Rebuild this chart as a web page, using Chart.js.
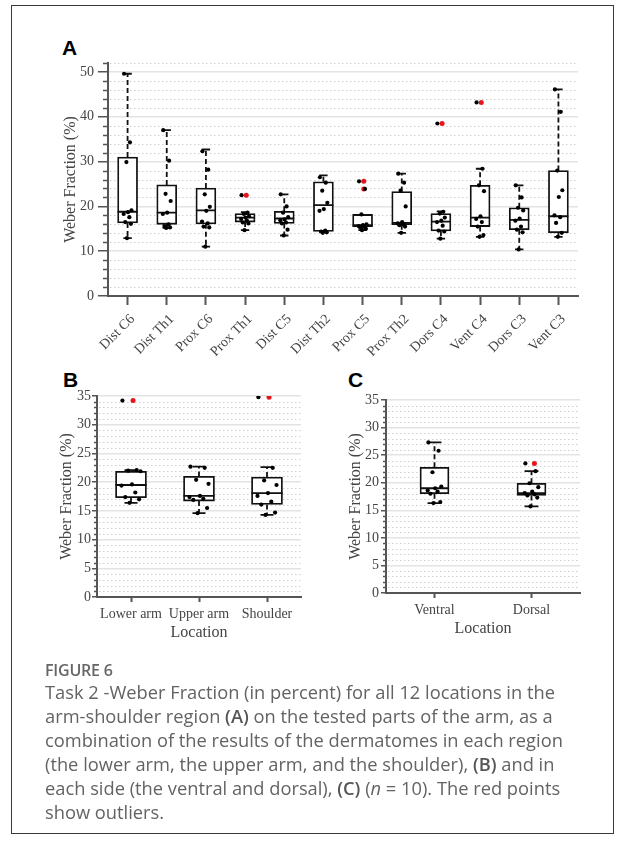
<!DOCTYPE html>
<html>
<head>
<meta charset="utf-8">
<script src="https://cdn.jsdelivr.net/npm/chart.js@4.4.0/dist/chart.umd.min.js"></script>
<style>
html, body { margin: 0; padding: 0; background: #fff; }
body { width: 625px; height: 845px; position: relative; overflow: hidden; }
.frame { position: absolute; left: 11px; top: 5px; width: 601px; height: 827px; border: 1px solid #3a3a3a; }
.panel { position: absolute; font-family: "Liberation Sans", Arial, sans-serif; font-weight: bold; font-size: 21px; line-height: 21px; color: #000; }
canvas { position: absolute; }
.fig { position: absolute; left: 45px; top: 659px; font-family: "Open Sans", sans-serif; font-weight: 600; font-size: 16px; color: #666; letter-spacing: -0.2px; }
.txt { position: absolute; left: 45px; top: 680px; font-family: "Open Sans", sans-serif; font-size: 18.3px; line-height: 23.9px; color: #636363; white-space: nowrap; }
.txt b { color: #555; font-weight: 600; }
</style>
</head>
<body>
<div class="frame"></div>
<div class="panel" style="left:62px;top:37px">A</div>
<div class="panel" style="left:63px;top:369px">B</div>
<div class="panel" style="left:348px;top:369px">C</div>
<canvas id="chartA" width="625" height="372" style="left:0;top:0"></canvas>
<canvas id="chartB" width="320" height="290" style="left:0;top:360px"></canvas>
<canvas id="chartC" width="325" height="290" style="left:300px;top:360px"></canvas>
<div class="fig">FIGURE 6</div>
<div class="txt">Task 2 -Weber Fraction (in percent) for all 12 locations in the<br>arm-shoulder region <b>(A)</b> on the tested parts of the arm, as a<br>combination of the results of the dermatomes in each region<br>(the lower arm, the upper arm, and the shoulder), <b>(B)</b> and in<br>each side (the ventral and dorsal), <b>(C)</b> (<i>n</i> = 10). The red points<br>show outliers.</div>
<script>
// panel A - 12 locations
var labelsA = ["Dist C6", "Dist Th1", "Prox C6", "Prox Th1", "Dist C5", "Dist Th2",
               "Prox C5", "Prox Th2", "Dors C4", "Vent C4", "Dors C3", "Vent C3"];
var lowA  = [12.9, 15.2, 11.0, 14.7, 13.5, 14.3, 14.7, 14.1, 12.8, 13.2, 10.4, 13.2];
var q1A   = [16.3, 16.0, 16.1, 16.5, 16.2, 14.4, 15.5, 15.9, 14.5, 15.5, 14.8, 14.1];
var medA  = [18.8, 18.6, 19.1, 17.5, 17.3, 20.3, 15.8, 16.3, 16.6, 17.5, 17.0, 17.8];
var q3A   = [31.0, 24.8, 24.1, 18.4, 18.9, 25.5, 18.2, 23.3, 18.4, 24.7, 19.7, 28.0];
var highA = [49.6, 37.0, 32.7, 18.7, 22.7, 26.9, 18.2, 27.3, 18.9, 28.4, 24.7, 46.1];
var pointsA = [
  [49.6, 34.3, 29.9, 19.1, 18.7, 18.3, 17.6, 16.5, 16.1, 12.9],
  [37.0, 30.2, 22.8, 21.2, 18.6, 18.3, 16.0, 15.6, 15.3, 15.2],
  [32.3, 28.2, 22.7, 19.9, 19.0, 16.6, 16.2, 15.5, 15.3, 11.0],
  [22.5, 18.6, 18.3, 17.8, 17.5, 17.2, 16.8, 16.4, 16.2, 14.7],
  [22.7, 20.0, 18.6, 17.6, 17.1, 16.9, 16.4, 16.2, 14.8, 13.5],
  [26.5, 25.3, 23.5, 20.8, 19.4, 19.0, 14.6, 14.4, 14.2, 14.1],
  [25.6, 23.9, 18.2, 16.0, 15.8, 15.6, 15.5, 15.3, 15.0, 14.7],
  [27.3, 25.3, 23.5, 20.0, 16.5, 16.2, 16.0, 15.8, 15.5, 14.1],
  [38.5, 18.8, 18.4, 17.5, 16.8, 16.5, 15.7, 14.6, 14.4, 12.8],
  [43.2, 28.4, 24.7, 23.4, 17.8, 17.2, 16.5, 15.5, 13.6, 13.2],
  [24.7, 22.0, 19.7, 19.1, 17.3, 16.8, 15.5, 14.8, 14.2, 10.4],
  [46.1, 41.1, 28.0, 23.6, 22.1, 18.0, 17.6, 16.3, 14.1, 13.2]
];
var outliersA = [[], [], [], [22.5], [], [], [25.6, 23.9], [], [38.5], [43.2], [], []];

// panel B - regions
var labelsB = ["Lower arm", "Upper arm", "Shoulder"];
var lowB  = [16.4, 14.6, 14.3];
var q1B   = [17.3, 16.7, 16.1];
var medB  = [19.5, 17.6, 18.1];
var q3B   = [21.9, 21.0, 20.9];
var highB = [22.1, 22.7, 22.6];
var pointsB = [
  [34.2, 22.1, 22.0, 21.9, 19.6, 19.4, 18.2, 17.4, 17.0, 16.4],
  [22.7, 22.5, 20.4, 19.7, 17.6, 17.4, 17.1, 16.9, 15.5, 14.6],
  [34.8, 22.5, 20.3, 19.5, 18.1, 17.6, 16.6, 16.1, 14.7, 14.3]
];
var outliersB = [[34.2], [], [34.8]];

// panel C - sides
var labelsC = ["Ventral", "Dorsal"];
var lowC  = [16.3, 15.7];
var q1C   = [18.0, 17.7];
var medC  = [19.0, 18.1];
var q3C   = [22.8, 19.9];
var highC = [27.3, 22.1];
var pointsC = [
  [27.3, 25.8, 21.9, 19.3, 19.0, 18.6, 18.4, 18.0, 16.5, 16.3],
  [23.5, 22.1, 19.9, 19.2, 18.4, 18.1, 17.9, 17.7, 17.3, 15.7]
];
var outliersC = [[], [23.5]];

var serif = '"Liberation Serif", "Times New Roman", serif';
var jitterPattern = [-0.9, 0.6, -0.3, 1.0, 0.1, -1.0, 0.45, -0.6, 0.85, -0.15];

function boxChart(id, labels, lo, q1, med, q3, hi, pts, outl, st) {
  var n = labels.length;
  var black = [], red = [];
  pts.forEach(function (arr, i) {
    arr.forEach(function (v, j) { black.push({ x: i + jitterPattern[j % 10] * st.jitter, y: v }); });
  });
  outl.forEach(function (arr, i) {
    arr.forEach(function (v) { red.push({ x: i + 0.03, y: v }); });
  });

  var boxPlugin = {
    id: 'boxes_' + id,
    beforeDatasetsDraw: function (chart) {
      // dotted minor grid + minor ticks
      var ctx = chart.ctx, y = chart.scales.y, a = chart.chartArea;
      ctx.save();
      for (var k = 1; k * st.minor <= st.yMax + 1e-9; k++) {
        var v = k * st.minor;
        if (Math.abs(v / st.major - Math.round(v / st.major)) < 1e-6) continue;
        var py = Math.round(y.getPixelForValue(v)) + 0.5;
        ctx.setLineDash([1.5, 2.5]);
        ctx.strokeStyle = '#cfcfcf';
        ctx.lineWidth = 1;
        ctx.beginPath(); ctx.moveTo(a.left + 2, py); ctx.lineTo(a.right, py); ctx.stroke();
        ctx.setLineDash([]);
        ctx.strokeStyle = '#555';
        ctx.lineWidth = 1.5;
        ctx.beginPath(); ctx.moveTo(a.left - st.minorLen, py); ctx.lineTo(a.left, py); ctx.stroke();
      }
      ctx.restore();
    },
    afterDatasetDraw: function (chart, args) {
      if (args.index !== 0) return;
      var ctx = chart.ctx, y = chart.scales.y;
      ctx.save();
      ctx.strokeStyle = '#111';
      ctx.lineWidth = 1.8;
      args.meta.data.forEach(function (bar, i) {
        var x = bar.x, w = bar.width, c = w * st.cap / 2;
        var pHi = y.getPixelForValue(hi[i]), pLo = y.getPixelForValue(lo[i]);
        var pQ1 = y.getPixelForValue(q1[i]), pQ3 = y.getPixelForValue(q3[i]);
        var pMed = y.getPixelForValue(med[i]);
        ctx.setLineDash([5, 3]);
        ctx.beginPath();
        ctx.moveTo(x, pQ3); ctx.lineTo(x, pHi);
        ctx.moveTo(x, pQ1); ctx.lineTo(x, pLo);
        ctx.stroke();
        ctx.setLineDash([]);
        ctx.beginPath();
        if (hi[i] > q3[i]) { ctx.moveTo(x - c, pHi); ctx.lineTo(x + c, pHi); }
        if (lo[i] < q1[i]) { ctx.moveTo(x - c, pLo); ctx.lineTo(x + c, pLo); }
        ctx.moveTo(x - w / 2, pMed); ctx.lineTo(x + w / 2, pMed);
        ctx.stroke();
      });
      ctx.restore();
    }
  };

  return new Chart(document.getElementById(id), {
    type: 'bar',
    data: {
      labels: labels,
      datasets: [
        {
          type: 'bar',
          data: q1.map(function (v, i) { return [v, q3[i]]; }),
          backgroundColor: '#fff',
          borderColor: '#111',
          borderWidth: 1.8,
          borderSkipped: false,
          grouped: false,
          barThickness: st.boxW,
          maxBarThickness: st.boxW,
          order: 3
        },
        {
          type: 'scatter', xAxisID: 'xp', data: red,
          pointRadius: 2.5, pointBackgroundColor: '#e8141c', pointBorderWidth: 0, order: 2
        },
        {
          type: 'scatter', xAxisID: 'xp', data: black,
          pointRadius: 2.1, pointBackgroundColor: '#000', pointBorderWidth: 0, order: 1
        }
      ]
    },
    options: {
      responsive: false,
      animation: false,
      events: [],
      layout: { padding: { left: st.padL, top: st.padT, right: st.padR, bottom: 0 } },
      plugins: { legend: { display: false }, tooltip: { enabled: false } },
      scales: {
        x: {
          type: 'category',
          offset: true,
          grid: { display: true, drawOnChartArea: false, offset: false, tickLength: st.xTickLen, tickColor: '#555', tickWidth: 2 },
          border: { color: '#555', width: 2 },
          ticks: {
            color: '#444', font: { family: serif, size: 14 }, autoSkip: false,
            maxRotation: st.rot, minRotation: st.rot, padding: st.xPad, labelOffset: st.labelOffset
          },
          title: {
            display: st.xTitle, text: 'Location', color: '#444',
            font: { family: serif, size: 16 }, padding: { top: 0, bottom: st.xTitlePad }
          },
          afterFit: function (s) { s.height = st.xAxisH; }
        },
        xp: { type: 'linear', display: false, offset: false, grid: { offset: false }, min: -0.5, max: n - 0.5 },
        y: {
          min: 0, max: st.yMax,
          ticks: { stepSize: st.major, includeBounds: false, color: '#444', font: { family: serif, size: 14 }, padding: st.yPad },
          grid: { color: '#e3e3e3', lineWidth: 1.5, tickColor: '#555', tickLength: st.majorLen, tickWidth: 1.5 },
          border: { color: '#555', width: 2 },
          title: {
            display: true, text: 'Weber Fraction (%)', color: '#444',
            font: { family: serif, size: st.yTitleSize }, padding: { top: st.yTitlePad, bottom: 0 }
          },
          afterFit: function (s) { s.width = st.yAxisW; }
        }
      }
    },
    plugins: [boxPlugin]
  });
}

boxChart('chartA', labelsA, lowA, q1A, medA, q3A, highA, pointsA, outliersA, {
  padL: 57, padT: 63, padR: 47, yAxisW: 51, xAxisH: 76,
  yMax: 52, major: 10, minor: 2, majorLen: 10, minorLen: 5, yPad: 4,
  yTitleSize: 16, yTitlePad: 4,
  xTickLen: 9, xPad: 6, rot: 45, labelOffset: 5, xTitle: false, xTitlePad: 0,
  boxW: 20, cap: 0.42, jitter: 0.1
});

boxChart('chartB', labelsB, lowB, q1B, medB, q3B, highB, pointsB, outliersB, {
  padL: 55, padT: 36, padR: 19, yAxisW: 42, xAxisH: 53,
  yMax: 35, major: 5, minor: 1, majorLen: 5, minorLen: 3, yPad: 1,
  yTitleSize: 16, yTitlePad: 2,
  xTickLen: 5, xPad: 4, rot: 0, labelOffset: 0, xTitle: true, xTitlePad: 8,
  boxW: 31, cap: 0.42, jitter: 0.14
});

boxChart('chartC', labelsC, lowC, q1C, medC, q3C, highC, pointsC, outliersC, {
  padL: 40, padT: 40, padR: 45, yAxisW: 46, xAxisH: 57,
  yMax: 35, major: 5, minor: 1, majorLen: 5, minorLen: 3, yPad: 2,
  yTitleSize: 16, yTitlePad: 6,
  xTickLen: 5, xPad: 4, rot: 0, labelOffset: 0, xTitle: true, xTitlePad: 12,
  boxW: 29, cap: 0.48, jitter: 0.07
});
</script>
</body>
</html>
